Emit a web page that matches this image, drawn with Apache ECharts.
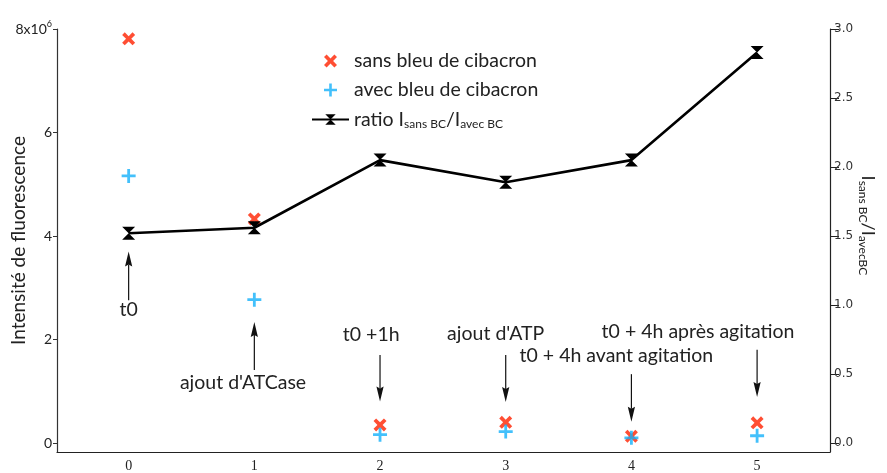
<!DOCTYPE html>
<html>
<head>
<meta charset="utf-8">
<script src="https://cdn.jsdelivr.net/npm/echarts@6/dist/echarts.min.js"></script>
<style>
  html, body { margin: 0; padding: 0; background: #fff; }
  #chart { width: 887px; height: 473px; }
</style>
</head>
<body>
<div id="chart"></div>
<script>
// Sample positions along the x axis
const steps = [0, 1, 2, 3, 4, 5];

// Fluorescence intensity without / with cibacron blue (left axis)
const sansBC = [7.81e6, 4.33e6, 0.35e6, 0.40e6, 0.13e6, 0.39e6];
const avecBC = [5.16e6, 2.77e6, 0.16e6, 0.22e6, 0.10e6, 0.14e6];

// Ratio I(sans BC) / I(avec BC) (right axis)
const ratio = [1.52, 1.56, 2.05, 1.89, 2.05, 2.83];

// Tick values
const leftTicks = [0, 2e6, 4e6, 6e6, 8e6];
const rightTicks = [0, 0.5, 1.0, 1.5, 2.0, 2.5, 3.0];
const xTicks = [0, 1, 2, 3, 4, 5];

// Annotations: text, arrow x, arrow tail / tip (left-axis units), text anchor
const annotLabels = ['t0', "ajout d'ATCase", 't0 +1h', "ajout d'ATP", 't0 + 4h avant agitation', 't0 + 4h après agitation'];
const annotArrowX = [0, 1, 2, 3, 4, 5];
const annotTail = [2.76e6, 1.41e6, 1.70e6, 1.70e6, 1.33e6, 1.80e6];
const annotTip = [3.70e6, 2.34e6, 0.80e6, 0.79e6, 0.41e6, 0.89e6];
const annotTextX = [0, 0.91, 1.93, 2.92, 3.88, 4.53];
const annotTextY = [2.57e6, 1.16e6, 2.09e6, 2.11e6, 1.68e6, 2.15e6];

const FONT = 'Lato, "Open Sans", sans-serif';
const TXT = 19.5;
const RED = '#ff2200';
const BLUE = '#14b0fa';

const crossPath = 'path://M0,2L2,0L5,3L8,0L10,2L7,5L10,8L8,10L5,7L2,10L0,8L3,5Z';
const plusPath = 'path://M4,0H6V4H10V6H6V10H4V6H0V4H4Z';
const hourglassPath = 'path://M0,0L10,0L0,10L10,10Z';

const annotData = annotLabels.map((t, i) => [annotArrowX[i], annotTail[i], annotTip[i], annotTextX[i], annotTextY[i]]);

const chart = echarts.init(document.getElementById('chart'), null, { renderer: 'canvas' });

chart.setOption({
  animation: false,
  backgroundColor: '#fff',
  grid: { left: 57, right: 57, top: 29, bottom: 21, containLabel: false, outerBoundsMode: 'none' },
  legend: {
    data: ['sans bleu de cibacron', 'avec bleu de cibacron', 'ratio'],
    orient: 'vertical',
    left: 306,
    top: 46,
    itemWidth: 37,
    itemHeight: 13,
    itemGap: 9,
    formatter: function (name) {
      if (name === 'ratio') return '{t|ratio I}{s|sans BC}{t|/I}{s|avec BC}';
      return '{t|' + name + '}';
    },
    textStyle: {
      color: '#222',
      fontFamily: FONT,
      fontSize: TXT,
      rich: {
        t: { fontFamily: FONT, fontSize: TXT, color: '#222', lineHeight: 18 },
        s: { fontFamily: FONT, fontSize: 12, color: '#222', padding: [9, 0, 0, 0], lineHeight: 18 }
      }
    }
  },
  xAxis: {
    type: 'value',
    min: -0.57,
    max: 5.58,
    splitLine: { show: false },
    axisLine: { onZero: false, lineStyle: { color: '#222', width: 1.2 } },
    axisTick: { show: false },
    axisLabel: {
      customValues: xTicks,
      color: '#222',
      fontFamily: '"Liberation Serif", serif',
      fontSize: 14,
      margin: 7
    }
  },
  yAxis: [
    {
      type: 'value',
      min: -0.174e6,
      max: 8e6,
      name: 'Intensité de fluorescence',
      nameLocation: 'middle',
      nameGap: 29,
      nameMoveOverlap: false,
      nameTextStyle: { fontFamily: FONT, fontSize: 19, color: '#222' },
      splitLine: { show: false },
      axisLine: { show: true, onZero: false, lineStyle: { color: '#333', width: 1.2 } },
      axisTick: { show: true, customValues: leftTicks, length: 4, lineStyle: { color: '#333' } },
      axisLabel: {
        customValues: leftTicks,
        color: '#222',
        fontFamily: FONT,
        fontSize: 14,
        margin: 5,
        formatter: function (v) {
          if (v === 8e6) return '{b|8x10}{p|6}';
          return String(Math.round(v / 1e6));
        },
        rich: {
          b: { fontFamily: FONT, fontSize: 14, color: '#222' },
          p: { fontFamily: FONT, fontSize: 9, color: '#222', padding: [0, 0, 10, 0] }
        }
      }
    },
    {
      type: 'value',
      position: 'right',
      min: -0.065,
      max: 3.0,
      name: '{i|I}{s|sans BC}{i|/I}{s|avecBC}',
      nameLocation: 'middle',
      nameRotate: -90,
      nameGap: 27,
      nameMoveOverlap: false,
      nameTextStyle: {
        padding: [0, 30, 0, 0],
        rich: {
          i: { fontFamily: FONT, fontSize: 18, color: '#222' },
          s: { fontFamily: FONT, fontSize: 12, color: '#222', padding: [9, 0, 0, 0] }
        }
      },
      splitLine: { show: false },
      axisLine: { show: true, onZero: false, lineStyle: { color: '#222', width: 1.2 } },
      axisTick: { show: true, customValues: rightTicks, length: 9, lineStyle: { color: '#222' } },
      axisLabel: {
        customValues: rightTicks,
        color: '#333',
        fontFamily: '"DejaVu Sans", sans-serif',
        fontSize: 12,
        margin: 4,
        formatter: function (v) { return v.toFixed(1); }
      }
    }
  ],
  series: [
    {
      name: 'sans bleu de cibacron',
      type: 'scatter',
      yAxisIndex: 0,
      symbol: crossPath,
      symbolSize: 13,
      itemStyle: { color: RED },
      z: 2,
      data: steps.map((x, i) => [x, sansBC[i]])
    },
    {
      name: 'avec bleu de cibacron',
      type: 'scatter',
      yAxisIndex: 0,
      symbol: plusPath,
      symbolSize: 14,
      itemStyle: { color: BLUE },
      z: 3,
      data: steps.map((x, i) => [x, avecBC[i]])
    },
    {
      name: 'ratio',
      type: 'line',
      yAxisIndex: 1,
      symbol: hourglassPath,
      symbolSize: 13,
      showAllSymbol: true,
      lineStyle: { color: '#000', width: 2.6 },
      itemStyle: { color: '#000', borderWidth: 0 },
      z: 4,
      data: steps.map((x, i) => [x, ratio[i]])
    },
    {
      name: 'annotations',
      type: 'custom',
      yAxisIndex: 0,
      silent: true,
      clip: false,
      z: 5,
      renderItem: function (params, api) {
        const i = params.dataIndex;
        const tail = api.coord([api.value(0), api.value(1)]);
        const tip = api.coord([api.value(0), api.value(2)]);
        const txt = api.coord([api.value(3), api.value(4)]);
        const dir = tip[1] > tail[1] ? 1 : -1;
        const headLen = 15, headW = 3.6;
        const base = tip[1] - dir * headLen;
        const notch = tip[1] - dir * (headLen - 2);
        return {
          type: 'group',
          children: [
            { type: 'line', shape: { x1: tail[0], y1: tail[1], x2: tip[0], y2: notch },
              style: { stroke: '#111', lineWidth: 1.2 } },
            { type: 'polygon',
              shape: { points: [[tip[0], tip[1]], [tip[0] - headW, base], [tip[0], notch], [tip[0] + headW, base]] },
              style: { fill: '#111' } },
            { type: 'text', x: txt[0], y: txt[1],
              style: { text: annotLabels[i], align: 'center', verticalAlign: 'middle',
                       fontFamily: FONT, fontSize: TXT, fill: '#222' } }
          ]
        };
      },
      data: annotData
    }
  ]
});
</script>
</body>
</html>
